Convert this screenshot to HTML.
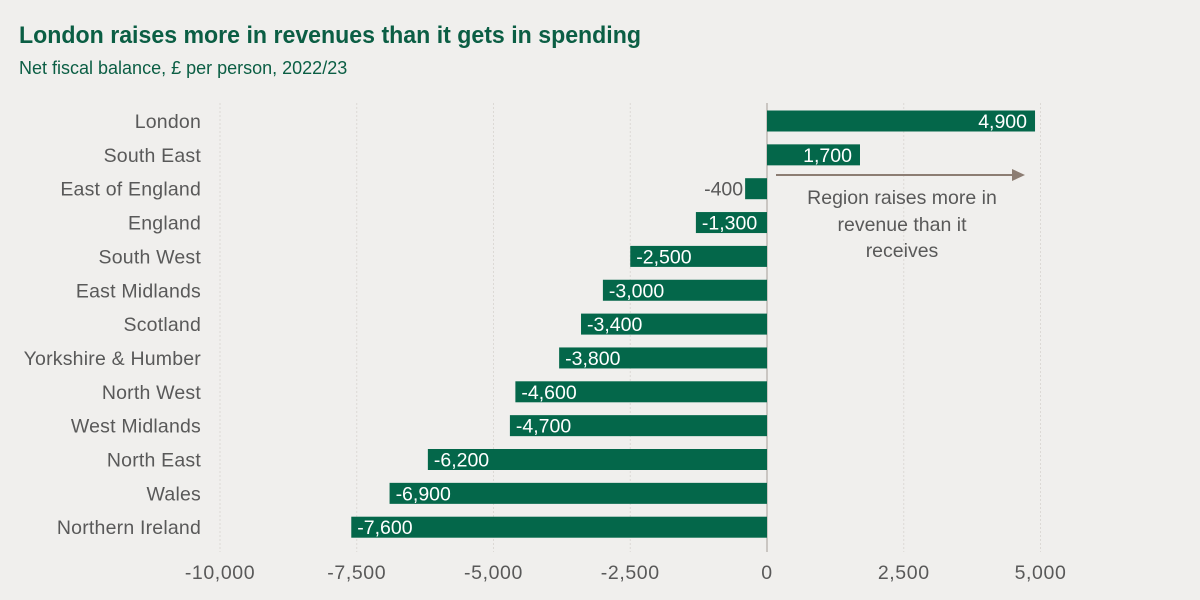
<!DOCTYPE html>
<html><head><meta charset="utf-8"><style>
body{margin:0;background:#f0efed;}
svg{display:block;font-family:"Liberation Sans",sans-serif;}
</style></head><body>
<svg id="chart" width="1200" height="600" viewBox="0 0 1200 600">
<rect x="0" y="0" width="1200" height="600" fill="#f0efed"/>
<text x="19" y="43" font-size="24" font-weight="bold" fill="#0b5e44" textLength="622" lengthAdjust="spacingAndGlyphs">London raises more in revenues than it gets in spending</text>
<text x="19" y="74" font-size="18" fill="#0b5e44">Net fiscal balance, £ per person, 2022/23</text>
<g id="grid"></g><g id="bars"></g><g id="labels"></g>
<line x1="776" y1="175" x2="1014" y2="175" stroke="#8c7d73" stroke-width="2"/>
<polygon points="1025,175 1012,169 1012,181" fill="#8c7d73"/>
<g font-size="19.5" fill="#595959" text-anchor="middle">
<text x="902" y="204">Region raises more in</text>
<text x="902" y="231">revenue than it</text>
<text x="902" y="257">receives</text>
</g>
</svg>
<script>
const categories=["London","South East","East of England","England","South West","East Midlands","Scotland","Yorkshire & Humber","North West","West Midlands","North East","Wales","Northern Ireland"];
const values=[4900,1700,-400,-1300,-2500,-3000,-3400,-3800,-4600,-4700,-6200,-6900,-7600];
const ticks=[-10000,-7500,-5000,-2500,0,2500,5000];
const tickLabels=["-10,000","-7,500","-5,000","-2,500","0","2,500","5,000"];
const NS="http://www.w3.org/2000/svg";
const x0=767,pxPer=0.0547;
function xs(v){return x0+v*pxPer;}
function ys(i){return 121+i*33.85;}
function mk(t,a,p){const e=document.createElementNS(NS,t);for(const k in a)e.setAttribute(k,a[k]);p.appendChild(e);return e;}
const grid=document.getElementById('grid'),bars=document.getElementById('bars'),lab=document.getElementById('labels');
function fmt(v){return (v<0?"-":"")+Math.abs(v).toLocaleString('en-US');}
ticks.forEach((t,i)=>{
  if(t!==0){const g=mk('line',{x1:xs(t),x2:xs(t),y1:103,y2:552,stroke:'#dcd9d5','stroke-width':1,'stroke-dasharray':'2,2'},grid);
  
  }
  const tl=mk('text',{x:xs(t),y:579,'font-size':19.5,fill:'#595959','text-anchor':'middle','letter-spacing':'0.6'},lab);
  tl.textContent=tickLabels[i];
  
  
});
categories.forEach((c,i)=>{
  const v=values[i],y=ys(i);
  const x1=Math.min(xs(0),xs(v)),w=Math.abs(xs(v)-xs(0));
  const r=mk('rect',{x:x1,y:y-10.5,width:w,height:21,fill:'#04674a'},bars);
  
  
  const cl=mk('text',{x:201,y:y+7,'font-size':19.5,fill:'#595959','text-anchor':'end','letter-spacing':'0.2'},lab);
  cl.textContent=c;
  
  
  let vl;
  if(v>0){vl=mk('text',{x:xs(v)-8,y:y+7,'font-size':19.5,fill:'#fff','text-anchor':'end'},lab);}
  else if(w<60){vl=mk('text',{x:xs(v)-2,y:y+7,'font-size':19.5,fill:'#595959','text-anchor':'end'},lab);}
  else{vl=mk('text',{x:xs(v)+6,y:y+7,'font-size':19.5,fill:'#fff','text-anchor':'start'},lab);}
  vl.textContent=fmt(v);
  
  
});
const ax=mk('line',{x1:x0,x2:x0,y1:103,y2:552,stroke:'#bdb9b4','stroke-width':1.5},grid);


</script>
</body></html>
